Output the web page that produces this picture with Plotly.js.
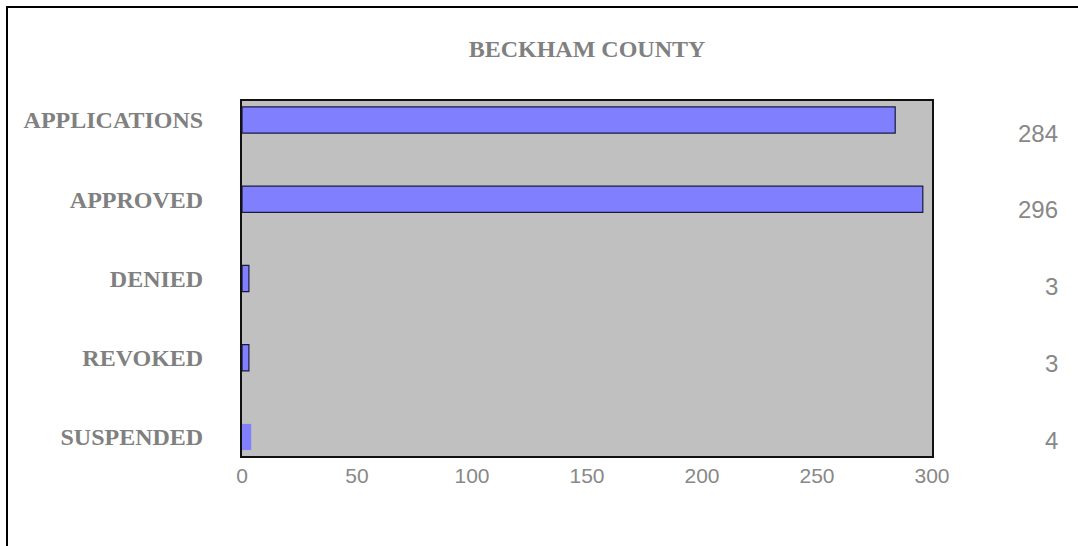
<!DOCTYPE html>
<html>
<head>
<meta charset="utf-8">
<script src="https://cdn.plot.ly/plotly-3.0.1.min.js"></script>
<style>
  html, body { margin: 0; padding: 0; background: #ffffff; }
  #chart { position: absolute; left: 0; top: 0; width: 1078px; height: 546px; }
  #frame { position: absolute; left: 6px; top: 6px; width: 1080px; height: 560px;
           border-left: 2px solid #000; border-top: 2px solid #000; pointer-events: none; }
</style>
</head>
<body>
<div id="chart"></div>
<div id="frame"></div>
<script>
const categories = ["APPLICATIONS", "APPROVED", "DENIED", "REVOKED", "SUSPENDED"];
const values = [284, 296, 3, 3, 4];
const chartTitle = "BECKHAM COUNTY";
const xTicks = [0, 50, 100, 150, 200, 250, 300];

const trace = {
  type: "bar",
  orientation: "h",
  x: values,
  y: categories,
  width: 0.33,
  marker: {
    color: "#8080FF",
    line: { color: "#1a1a40", width: values.map((v, i) => i === values.length - 1 ? 0 : 1.2) }
  },
  hoverinfo: "none"
};

const annotations = values.map((v, i) => ({
  xref: "paper", yref: "y2",
  x: 1.1855, y: i,
  xanchor: "right", yanchor: "middle",
  text: String(v),
  showarrow: false,
  font: { family: "Liberation Sans, Arial, sans-serif", size: 24, color: "#888888" }
}));

const layout = {
  width: 1078, height: 546,
  margin: { l: 242, r: 146, t: 101, b: 90, pad: 0 },
  paper_bgcolor: "#ffffff",
  plot_bgcolor: "#C0C0C0",
  showlegend: false,
  title: {
    text: "<b>" + chartTitle + "</b>",
    font: { family: "Liberation Serif, Times New Roman, serif", size: 24, color: "#808080" },
    xref: "paper", x: 0.5, xanchor: "center",
    yref: "container", y: 1 - 49 / 546, yanchor: "middle"
  },
  xaxis: {
    range: [0, 300],
    tickvals: xTicks,
    ticktext: xTicks.map(String),
    showgrid: false, zeroline: false,
    showline: true, mirror: true, linecolor: "#111", linewidth: 2,
    ticks: "", ticklabelstandoff: 0,
    tickfont: { family: "Liberation Sans, Arial, sans-serif", size: 21, color: "#888888" },
    fixedrange: true
  },
  yaxis: {
    type: "category",
    categoryorder: "array", categoryarray: categories,
    range: [4.24, -0.24],
    showgrid: false, zeroline: false,
    showline: true, mirror: true, linecolor: "#111", linewidth: 2,
    ticks: "", ticklabelstandoff: 32,
    tickvals: categories,
    ticktext: categories.map(c => "<b>" + c + "</b>"),
    tickfont: { family: "Liberation Serif, Times New Roman, serif", size: 24, color: "#808080" },
    fixedrange: true
  },
  yaxis2: {
    overlaying: "y",
    range: [4.208, -0.417],
    visible: false,
    fixedrange: true
  },
  annotations: annotations
};

Plotly.newPlot("chart", [trace], layout, { displayModeBar: false, staticPlot: true });
</script>
</body>
</html>
